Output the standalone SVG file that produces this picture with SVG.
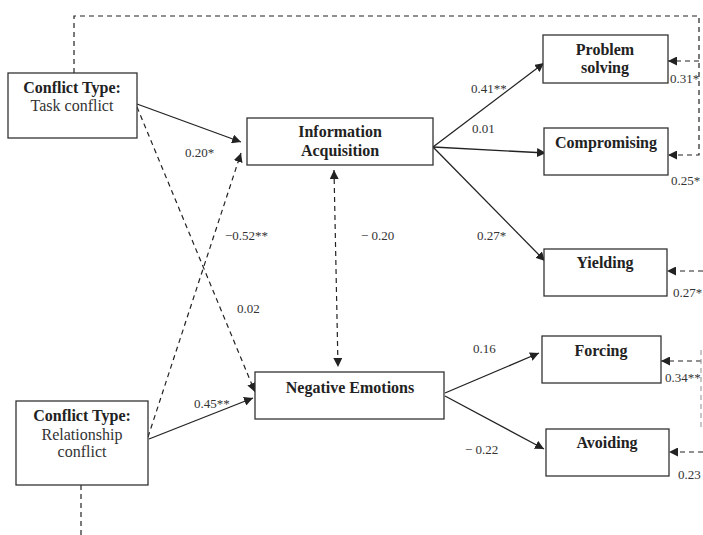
<svg xmlns="http://www.w3.org/2000/svg" width="703" height="535" viewBox="0 0 703 535">
<style>
  .box { fill: #ffffff; stroke: #333333; stroke-width: 1.3; }
  .title { font-family: "Liberation Serif", "Times New Roman", serif; font-weight: bold; font-size: 16px; fill: #222222; text-anchor: middle; }
  .sub { font-family: "Liberation Serif", "Times New Roman", serif; font-size: 16px; fill: #333333; text-anchor: middle; }
  .lbl { font-family: "Liberation Serif", "Times New Roman", serif; font-size: 13px; fill: #333333; }
  .solid { fill: none; stroke: #222222; stroke-width: 1.3; }
  .dash { fill: none; stroke: #222222; stroke-width: 1.2; stroke-dasharray: 5 4; }
  .dashlight { fill: none; stroke: #999999; stroke-width: 1.1; stroke-dasharray: 5 4; }
</style>
<defs>
  <marker id="arr" viewBox="0 0 10 10" refX="10" refY="5" markerWidth="9" markerHeight="9" markerUnits="userSpaceOnUse" orient="auto-start-reverse">
    <path d="M0,0 L10,5 L0,10 Z" fill="#222222"/>
  </marker>
</defs>
<rect width="703" height="535" fill="#ffffff"/>

<g id="connectors">
  <!-- solid paths -->
  <line class="solid" x1="137" y1="104" x2="241" y2="142" marker-end="url(#arr)"/>
  <line class="solid" x1="433" y1="147" x2="544" y2="63" marker-end="url(#arr)"/>
  <line class="solid" x1="433" y1="147" x2="546" y2="153" marker-end="url(#arr)"/>
  <line class="solid" x1="433" y1="147" x2="545" y2="261" marker-end="url(#arr)"/>
  <line class="solid" x1="149" y1="439" x2="253" y2="398" marker-end="url(#arr)"/>
  <line class="solid" x1="445" y1="393" x2="539" y2="353" marker-end="url(#arr)"/>
  <line class="solid" x1="445" y1="396" x2="544" y2="449" marker-end="url(#arr)"/>
  <!-- dashed paths -->
  <line class="dash" x1="137" y1="107" x2="255" y2="392" marker-end="url(#arr)"/>
  <line class="dash" x1="148" y1="437" x2="241" y2="153" marker-end="url(#arr)"/>
  <line class="dash" x1="334" y1="170" x2="338" y2="367" marker-start="url(#arr)" marker-end="url(#arr)"/>
  <polyline class="dash" points="74,73 74,16 699,16 699,155 668,155" marker-end="url(#arr)"/>
  <line class="dash" x1="699" y1="61" x2="668" y2="61" marker-end="url(#arr)"/>
  <line class="dash" x1="703" y1="271" x2="667" y2="271" marker-end="url(#arr)"/>
  <line class="dash" x1="701" y1="361" x2="661" y2="361" marker-end="url(#arr)"/>
  <line class="dashlight" x1="701" y1="350" x2="701" y2="427"/>
  <line class="dash" x1="703" y1="452" x2="669" y2="452" marker-end="url(#arr)"/>
  <line class="dash" x1="81" y1="485" x2="81" y2="535"/>
  <!-- path labels -->
  <text class="lbl" x="185" y="157">0.20*</text>
  <text class="lbl" x="225" y="240">−0.52**</text>
  <text class="lbl" x="361" y="240">− 0.20</text>
  <text class="lbl" x="237" y="313">0.02</text>
  <text class="lbl" x="194" y="408">0.45**</text>
  <text class="lbl" x="471" y="93">0.41**</text>
  <text class="lbl" x="472" y="133">0.01</text>
  <text class="lbl" x="477" y="240">0.27*</text>
  <text class="lbl" x="473" y="353">0.16</text>
  <text class="lbl" x="465" y="454">− 0.22</text>
  <text class="lbl" x="670" y="83">0.31*</text>
  <text class="lbl" x="671" y="185">0.25*</text>
  <text class="lbl" x="673" y="297">0.27*</text>
  <text class="lbl" x="665" y="382">0.34**</text>
  <text class="lbl" x="678" y="479">0.23</text>
</g>

<g id="task-conflict">
  <rect class="box" x="8" y="73" width="129" height="65"/>
  <text class="title" x="72" y="93">Conflict Type:</text>
  <text class="sub" x="72" y="111">Task conflict</text>
</g>

<g id="relationship-conflict">
  <rect class="box" x="16" y="401" width="132" height="84"/>
  <text class="title" x="82" y="421">Conflict Type:</text>
  <text class="sub" x="82" y="440">Relationship</text>
  <text class="sub" x="82" y="457">conflict</text>
</g>

<g id="information-acquisition">
  <rect class="box" x="247" y="118" width="186" height="47"/>
  <text class="title" x="340" y="137">Information</text>
  <text class="title" x="340" y="156">Acquisition</text>
</g>

<g id="negative-emotions">
  <rect class="box" x="255" y="372" width="189" height="47"/>
  <text class="title" x="350" y="393">Negative Emotions</text>
</g>

<g id="problem-solving">
  <rect class="box" x="543" y="35" width="125" height="48"/>
  <text class="title" x="605" y="55">Problem</text>
  <text class="title" x="605" y="73">solving</text>
</g>

<g id="compromising">
  <rect class="box" x="544" y="128" width="124" height="47"/>
  <text class="title" x="606" y="148">Compromising</text>
</g>

<g id="yielding">
  <rect class="box" x="544" y="249" width="123" height="47"/>
  <text class="title" x="605" y="268">Yielding</text>
</g>

<g id="forcing">
  <rect class="box" x="542" y="336" width="119" height="47"/>
  <text class="title" x="601" y="356">Forcing</text>
</g>

<g id="avoiding">
  <rect class="box" x="546" y="429" width="123" height="47"/>
  <text class="title" x="607" y="448">Avoiding</text>
</g>
</svg>
